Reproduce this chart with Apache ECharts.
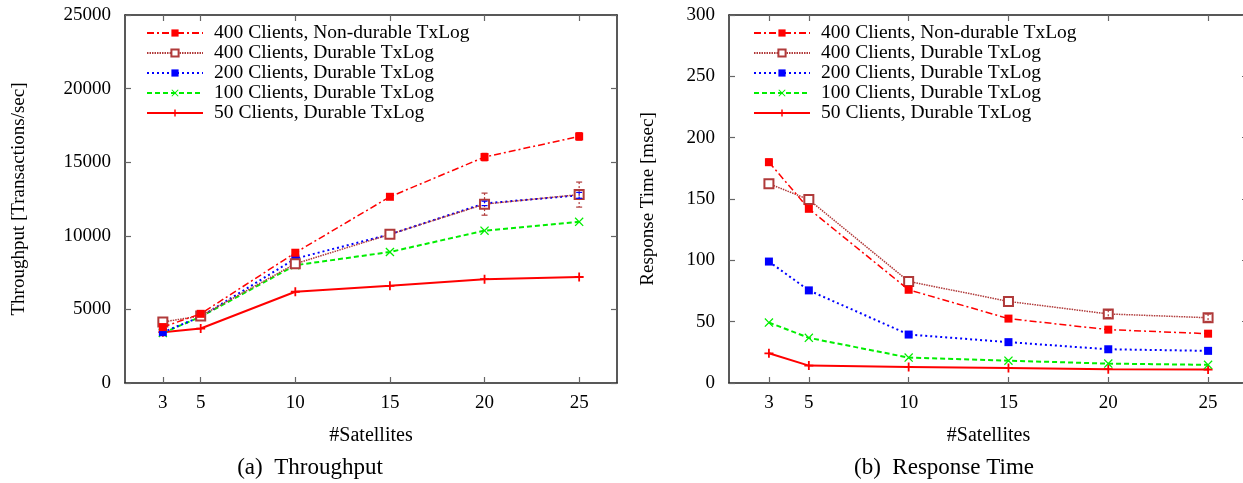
<!DOCTYPE html>
<html>
<head>
<meta charset="utf-8">
<script src="https://cdn.jsdelivr.net/npm/echarts@6/dist/echarts.min.js"></script>
<style>
  html, body { margin: 0; padding: 0; background: #fff; }
  #main { width: 1243px; height: 483px; }
</style>
</head>
<body>
<div id="main"></div>
<script>
// x positions (number of satellites)
var satellites = [3, 5, 10, 15, 20, 25];
var seriesNames = [
	'400 Clients, Non-durable TxLog',
	'400 Clients, Durable TxLog',
	'200 Clients, Durable TxLog',
	'100 Clients, Durable TxLog',
	'50 Clients, Durable TxLog'
];

// (a) throughput [transactions/sec]
var tputNd400 = [3800, 4700, 8850, 12650, 15350, 16750];
var tputD400 = [4150, 4550, 8100, 10100, 12150, 12800];
var tputD200 = [3450, 4500, 8450, 10100, 12200, 12750];
var tputD100 = [3400, 4500, 8000, 8900, 10350, 10950];
var tputD50 = [3450, 3700, 6200, 6600, 7050, 7200];
// error bar half-heights
var tputErrNd400 = [0, 0, 0, 0, 250, 250];
var tputErrD400 = [0, 0, 0, 0, 750, 850];
var tputErrD200 = [0, 0, 0, 0, 150, 200];

// (b) response time [msec]
var rtNd400 = [180, 142, 76, 52.5, 43.5, 40.2];
var rtD400 = [162.5, 149.5, 82.8, 66.5, 56.3, 53.2];
var rtD200 = [99, 75.5, 39.5, 33.3, 27.5, 26.2];
var rtD100 = [49.3, 36.8, 20.7, 18.2, 15.8, 14.8];
var rtD50 = [24.2, 14.2, 13.1, 12.2, 11.3, 11];
var rtErrNd400 = [2.5, 0, 0, 0, 0, 0];
var rtErrD400 = [0, 0, 0, 0, 3, 3];

var tputTicks = [0, 5000, 10000, 15000, 20000, 25000];
var rtTicks = [0, 50, 100, 150, 200, 250, 300];

(function() {
	var font = 'Liberation Serif';
	var symX = 'path://M1,0 L5,4 L9,0 L10,1 L6,5 L10,9 L9,10 L5,6 L1,10 L0,9 L4,5 L0,1 Z';
	var symPlus = 'path://M4,0 H6 V4 H10 V6 H6 V10 H4 V6 H0 V4 H4 Z';

	var styles = [
		{ color : '#ff0000', type : [7, 3, 2, 3], width : 1.5, symbol : 'rect', size : 8 },
		{ color : '#b03a3a', type : [1.5, 1], width : 1.5, symbol : 'emptyRect', size : 9 },
		{ color : '#0000ff', type : [2, 3], width : 2, symbol : 'rect', size : 8 },
		{ color : '#00ee00', type : [5, 3], width : 2, symbol : symX, size : 9 },
		{ color : '#ff0000', type : 'solid', width : 2, symbol : symPlus, size : 9 }
	];

	function pairs(vals) {
		var out = [];
		for (var i = 0; i < satellites.length; i++) {
			out.push([ satellites[i], vals[i] ]);
		}
		return out;
	}

	function errPoints(vals, errs) {
		var out = [];
		for (var i = 0; i < satellites.length; i++) {
			if (errs[i] > 0) {
				out.push([ satellites[i], vals[i], errs[i] ]);
			}
		}
		return out;
	}

	function lineSeries(idx, gridIdx, vals) {
		var s = styles[idx];
		return {
			name : seriesNames[idx],
			type : 'line',
			xAxisIndex : gridIdx * 2,
			yAxisIndex : gridIdx * 2,
			data : pairs(vals),
			symbol : s.symbol,
			symbolSize : s.size,
			showAllSymbol : true,
			z : 10 - idx,
			lineStyle : { color : s.color, width : s.width, type : s.type },
			itemStyle : { color : s.color, borderColor : s.color, borderWidth : s.symbol === 'emptyRect' ? 2 : 0 },
			emphasis : { disabled : true }
		};
	}

	function errSeries(idx, gridIdx, vals, errs) {
		var c = styles[idx].color;
		return {
			type : 'custom',
			xAxisIndex : gridIdx * 2,
			yAxisIndex : gridIdx * 2,
			data : errPoints(vals, errs),
			silent : true,
			z : 20,
			renderItem : function(params, api) {
				var x = api.value(0), y = api.value(1), e = api.value(2);
				var top = api.coord([ x, y + e ]);
				var bot = api.coord([ x, y - e ]);
				var st = { stroke : c, lineWidth : 1.2, lineDash : [ 2, 2 ] };
				return {
					type : 'group',
					children : [
						{ type : 'line', shape : { x1 : top[0], y1 : top[1], x2 : bot[0], y2 : bot[1] }, style : st },
						{ type : 'line', shape : { x1 : top[0] - 3, y1 : top[1], x2 : top[0] + 3, y2 : top[1] }, style : { stroke : c, lineWidth : 1.2 } },
						{ type : 'line', shape : { x1 : bot[0] - 3, y1 : bot[1], x2 : bot[0] + 3, y2 : bot[1] }, style : { stroke : c, lineWidth : 1.2 } }
					]
				};
			}
		};
	}

	var axisLine = { show : true, onZero : false, lineStyle : { color : '#222', width : 1.5 } };
	var tickStyle = { color : '#666', width : 1.2 };
	var labelFont = { fontFamily : font, fontSize : 19, color : '#000' };

	function xAxes(gridIdx) {
		return [ {
			type : 'value', gridIndex : gridIdx, min : 1, max : 27, position : 'bottom',
			name : '#Satellites', nameLocation : 'middle', nameGap : 43,
			nameTextStyle : { fontFamily : font, fontSize : 20, color : '#000' },
			axisLine : axisLine,
			axisTick : { inside : true, length : 6, customValues : satellites, lineStyle : tickStyle },
			axisLabel : Object.assign({ customValues : satellites, margin : 11 }, labelFont),
			splitLine : { show : false }
		}, {
			type : 'value', gridIndex : gridIdx, min : 1, max : 27, position : 'top',
			axisLine : axisLine,
			axisTick : { inside : true, length : 6, customValues : satellites, lineStyle : tickStyle },
			axisLabel : { show : false },
			splitLine : { show : false }
		} ];
	}

	function yAxes(gridIdx, max, interval, name, gap) {
		return [ {
			type : 'value', gridIndex : gridIdx, min : 0, max : max, interval : interval, position : 'left',
			name : name, nameLocation : 'middle', nameGap : gap, nameRotate : 90,
			nameTextStyle : { fontFamily : font, fontSize : 19, color : '#000' },
			axisLine : axisLine,
			axisTick : { inside : true, length : 6, lineStyle : tickStyle },
			axisLabel : Object.assign({ margin : 14, formatter : function(v) { return String(v); } }, labelFont),
			splitLine : { show : false }
		}, {
			type : 'value', gridIndex : gridIdx, min : 0, max : max, interval : interval, position : 'right',
			axisLine : axisLine,
			axisTick : { inside : true, length : 6, lineStyle : tickStyle },
			axisLabel : { show : false },
			splitLine : { show : false }
		} ];
	}

	function legend(left) {
		return {
			orient : 'vertical', left : left, top : 18,
			data : seriesNames, itemWidth : 56, itemHeight : 9, itemGap : 0,
			selectedMode : false,
			textStyle : { fontFamily : font, fontSize : 19.5, color : '#000', lineHeight : 16, padding : [ 0, 0, 0, 6 ] }
		};
	}

	var myChart = echarts.init(document.getElementById('main'));
	var option = {
		animation : false,
		backgroundColor : '#fff',
		grid : [
			{ left : 125, top : 15, width : 492, height : 368, outerBoundsMode : 'none' },
			{ left : 729, top : 15, width : 519, height : 368, outerBoundsMode : 'none' }
		],
		legend : [ legend(141), legend(748) ],
		xAxis : xAxes(0).concat(xAxes(1)),
		yAxis : yAxes(0, tputTicks[tputTicks.length - 1], tputTicks[1] - tputTicks[0], 'Throughput [Transactions/sec]', 96)
			.concat(yAxes(1, rtTicks[rtTicks.length - 1], rtTicks[1] - rtTicks[0], 'Response Time [msec]', 71)),
		series : [
			lineSeries(0, 0, tputNd400),
			lineSeries(1, 0, tputD400),
			lineSeries(2, 0, tputD200),
			lineSeries(3, 0, tputD100),
			lineSeries(4, 0, tputD50),
			errSeries(0, 0, tputNd400, tputErrNd400),
			errSeries(1, 0, tputD400, tputErrD400),
			errSeries(2, 0, tputD200, tputErrD200),
			lineSeries(0, 1, rtNd400),
			lineSeries(1, 1, rtD400),
			lineSeries(2, 1, rtD200),
			lineSeries(3, 1, rtD100),
			lineSeries(4, 1, rtD50),
			errSeries(0, 1, rtNd400, rtErrNd400),
			errSeries(1, 1, rtD400, rtErrD400)
		],
		graphic : [
			{ type : 'text', x : 310, y : 468, style : { text : '(a)  Throughput', font : '23px "Liberation Serif"', fill : '#000', align : 'center', verticalAlign : 'middle' } },
			{ type : 'text', x : 944, y : 468, style : { text : '(b)  Response Time', font : '23px "Liberation Serif"', fill : '#000', align : 'center', verticalAlign : 'middle' } }
		]
	};
	myChart.setOption(option);
})();
</script>
</body>
</html>
